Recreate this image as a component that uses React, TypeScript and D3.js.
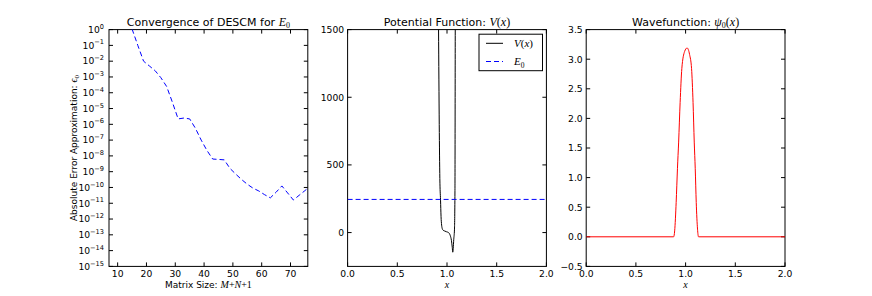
import * as d3 from 'd3'

const W = 872
const H = 296
const AX_LEFT = 109
const AX_W = 198.8
const AX_STEP = 238.6
const AX_TOP = 29.6
const AX_BOTTOM = 266.4
const FONT = '"DejaVu Sans", sans-serif'
const MATH = '"Liberation Serif", "DejaVu Serif", serif'

// panel 1: convergence
const SIZES = [15, 17, 19, 21, 23, 25, 27, 29, 31, 33, 35, 37, 39, 41, 43, 45, 47, 49, 51, 53, 55, 57, 59, 61, 63, 65, 67, 69, 71, 73, 75, 77]
const ERRORS = [
  1.1, 1e-1, 1e-2, 5e-3, 2.5e-3, 9e-4, 2.5e-4, 2.5e-5, 2.2e-6, 2.5e-6, 2.2e-6, 5.6e-7,
  1e-7, 2.2e-8, 6.3e-9, 6e-9, 5.6e-9, 1.6e-9, 7e-10, 3.2e-10, 1.6e-10, 9e-11, 6e-11,
  3.5e-11, 2.2e-11, 5e-11, 1.25e-10, 4.5e-11, 1.6e-11, 3.2e-11, 6.3e-11, 1.3e-10,
]
const SIZE_TICKS = [10, 20, 30, 40, 50, 60, 70]
const ERR_EXPONENTS = [0, -1, -2, -3, -4, -5, -6, -7, -8, -9, -10, -11, -12, -13, -14, -15]

// panel 2: potential
const POT_X = [0.9, 0.915, 0.922, 0.928, 0.935, 0.94, 0.946, 0.952, 0.96, 0.975, 0.995, 1.015, 1.032, 1.045, 1.053, 1.058, 1.062, 1.068, 1.075, 1.08, 1.083, 1.086]
const POT_V = [3000, 1500, 800, 400, 240, 120, 55, 30, 18, 12, 6, 0, -20, -60, -110, -145, -120, -50, 20, 300, 1500, 3000]
const E0 = 245
const POT_TICKS = [0, 500, 1000, 1500]
const X_TICKS = [0, 0.5, 1, 1.5, 2]

// panel 3: wavefunction
const PSI_X = [0, 0.88, 0.89, 0.905, 0.918, 0.93, 0.945, 0.962, 0.99, 1.015, 1.04, 1.06, 1.075, 1.087, 1.097, 1.107, 1.12, 1.13, 2]
const PSI_Y = [0, 0, 0.1, 0.58, 1.15, 1.6, 2.27, 2.84, 3.13, 3.19, 3.08, 2.84, 2.27, 1.6, 1.15, 0.58, 0.13, 0, 0]
const PSI_TICKS = [-0.5, 0, 0.5, 1, 1.5, 2, 2.5, 3, 3.5]

const fmtNum = (d: number, digits: number) => d.toFixed(digits).replace('-', '\u2212')

function Frame({ x0, xs, ys, xt, yt, xfmt, yfmt, id }: any) {
  const tl = 4
  return (
    <g>
      <defs>
        <clipPath id={id}>
          <rect x={x0} y={AX_TOP} width={AX_W} height={AX_BOTTOM - AX_TOP} />
        </clipPath>
      </defs>
      {xt.map((t: number) => (
        <g key={'x' + t}>
          <line x1={xs(t)} x2={xs(t)} y1={AX_BOTTOM} y2={AX_BOTTOM - tl} stroke="#000" />
          <line x1={xs(t)} x2={xs(t)} y1={AX_TOP} y2={AX_TOP + tl} stroke="#000" />
          <text x={xs(t)} y={276.5} textAnchor="middle" fontSize={9.2} fontFamily={FONT}>{xfmt(t)}</text>
        </g>
      ))}
      {yt.map((t: any) => (
        <g key={'y' + t}>
          <line x1={x0} x2={x0 + tl} y1={ys(t)} y2={ys(t)} stroke="#000" />
          <line x1={x0 + AX_W} x2={x0 + AX_W - tl} y1={ys(t)} y2={ys(t)} stroke="#000" />
          {yfmt(t, x0 - 3.5, ys(t))}
        </g>
      ))}
      <rect x={x0} y={AX_TOP} width={AX_W} height={AX_BOTTOM - AX_TOP} fill="none" stroke="#000" strokeWidth={1} />
    </g>
  )
}

export default function App() {
  const x1 = AX_LEFT
  const x2 = AX_LEFT + AX_STEP
  const x3 = AX_LEFT + 2 * AX_STEP

  // panel 1 scales
  const sx1 = d3.scaleLinear().domain([7, 76]).range([x1, x1 + AX_W])
  const sy1 = d3.scaleLog().domain([1e-15, 1]).range([AX_BOTTOM, AX_TOP])
  const errLine = d3.line<number>()
    .x((_, i) => sx1(SIZES[i]))
    .y((d) => sy1(d))(ERRORS) || ''

  // panel 2 scales
  const sx2 = d3.scaleLinear().domain([0, 2]).range([x2, x2 + AX_W])
  const sy2 = d3.scaleLinear().domain([-250, 1500]).range([AX_BOTTOM, AX_TOP])
  const potLine = d3.line<number>()
    .x((_, i) => sx2(POT_X[i]))
    .y((d) => sy2(d))
    .curve(d3.curveMonotoneX)(POT_V) || ''

  // panel 3 scales
  const sx3 = d3.scaleLinear().domain([0, 2]).range([x3, x3 + AX_W])
  const sy3 = d3.scaleLinear().domain([-0.5, 3.5]).range([AX_BOTTOM, AX_TOP])
  const psiLine = d3.line<number>()
    .x((_, i) => sx3(PSI_X[i]))
    .y((d) => sy3(d))
    .curve(d3.curveMonotoneX)(PSI_Y) || ''

  const logLabel = (e: number, x: number, y: number) => (
    <text x={x - 1.5} y={y + 3.3} textAnchor="end" fontSize={9.2} fontFamily={FONT}>
      10<tspan dy={-4.2} fontSize={6.6}>{String(e).replace('-', '\u2212')}</tspan>
    </text>
  )
  const numLabel = (digits: number) => (t: number, x: number, y: number) => (
    <text x={x} y={y + 3.3} textAnchor="end" fontSize={9.2} fontFamily={FONT}>{fmtNum(t, digits)}</text>
  )

  const cx = (x0: number) => x0 + AX_W / 2

  return (
    <svg width={W} height={H} style={{ position: 'absolute', left: 0, top: 0, background: '#fff' }}>
      {/* panel 1 */}
      <Frame
        id="c1" x0={x1} xs={sx1} ys={(e: number) => sy1(Math.pow(10, e))}
        xt={SIZE_TICKS} yt={ERR_EXPONENTS} xfmt={(t: number) => String(t)} yfmt={logLabel}
      />
      <path d={errLine} fill="none" stroke="#0000ff" strokeWidth={1} strokeDasharray="5,3" clipPath="url(#c1)" />
      <text x={cx(x1)} y={25.5} textAnchor="middle" fontSize={11} fontFamily={FONT}>
        Convergence of DESCM for <tspan fontFamily={MATH} fontStyle="italic" fontSize={12}>E</tspan>
        <tspan fontFamily={MATH} fontSize={8} dy={2.5}>0</tspan>
      </text>
      <text x={cx(x1)} y={288} textAnchor="middle" fontSize={9} fontFamily={FONT}>
        Matrix Size: <tspan fontFamily={MATH} fontSize={10}><tspan fontStyle="italic">M</tspan>+<tspan fontStyle="italic">N</tspan>+1</tspan>
      </text>
      <text transform={`translate(76.5,${(AX_TOP + AX_BOTTOM) / 2}) rotate(-90)`} textAnchor="middle" fontSize={9} fontFamily={FONT}>
        Absolute Error Approximation: <tspan fontFamily={MATH} fontStyle="italic" fontSize={10}>ϵ</tspan>
        <tspan fontFamily={MATH} fontSize={7} dy={2}>0</tspan>
      </text>

      {/* panel 2 */}
      <Frame
        id="c2" x0={x2} xs={sx2} ys={sy2}
        xt={X_TICKS} yt={POT_TICKS} xfmt={(t: number) => t.toFixed(1)} yfmt={numLabel(0)}
      />
      <g clipPath="url(#c2)">
        <path d={potLine} fill="none" stroke="#000" strokeWidth={1} />
        <line x1={sx2(0)} x2={sx2(2)} y1={sy2(E0)} y2={sy2(E0)} stroke="#0000ff" strokeWidth={1} strokeDasharray="5,3" />
      </g>
      <text x={cx(x2)} y={25.5} textAnchor="middle" fontSize={11} fontFamily={FONT}>
        Potential Function: <tspan fontFamily={MATH} fontSize={12}><tspan fontStyle="italic">V</tspan>(<tspan fontStyle="italic">x</tspan>)</tspan>
      </text>
      <text x={cx(x2)} y={287.5} textAnchor="middle" fontSize={10} fontFamily={MATH} fontStyle="italic">x</text>
      <g>
        <rect x={479} y={34.2} width={63.5} height={36.5} fill="#fff" stroke="#000" strokeWidth={1} />
        <line x1={486} x2={503} y1={43.3} y2={43.3} stroke="#000" strokeWidth={1} />
        <line x1={486} x2={503} y1={61.5} y2={61.5} stroke="#0000ff" strokeWidth={1} strokeDasharray="5,3" />
        <text x={514} y={47.2} fontSize={11} fontFamily={MATH}>
          <tspan fontStyle="italic">V</tspan>(<tspan fontStyle="italic">x</tspan>)
        </text>
        <text x={514} y={65} fontSize={11} fontFamily={MATH}>
          <tspan fontStyle="italic">E</tspan><tspan fontSize={7.5} dy={2.5}>0</tspan>
        </text>
      </g>

      {/* panel 3 */}
      <Frame
        id="c3" x0={x3} xs={sx3} ys={sy3}
        xt={X_TICKS} yt={PSI_TICKS} xfmt={(t: number) => t.toFixed(1)} yfmt={numLabel(1)}
      />
      <path d={psiLine} fill="none" stroke="#ff0000" strokeWidth={1} clipPath="url(#c3)" />
      <text x={cx(x3)} y={25.5} textAnchor="middle" fontSize={11} fontFamily={FONT}>
        Wavefunction: <tspan fontFamily={MATH} fontSize={12}><tspan fontStyle="italic">ψ</tspan><tspan fontSize={8} dy={2.5}>0</tspan><tspan dy={-2.5}>(</tspan><tspan fontStyle="italic">x</tspan>)</tspan>
      </text>
      <text x={cx(x3)} y={287.5} textAnchor="middle" fontSize={10} fontFamily={MATH} fontStyle="italic">x</text>
    </svg>
  )
}
